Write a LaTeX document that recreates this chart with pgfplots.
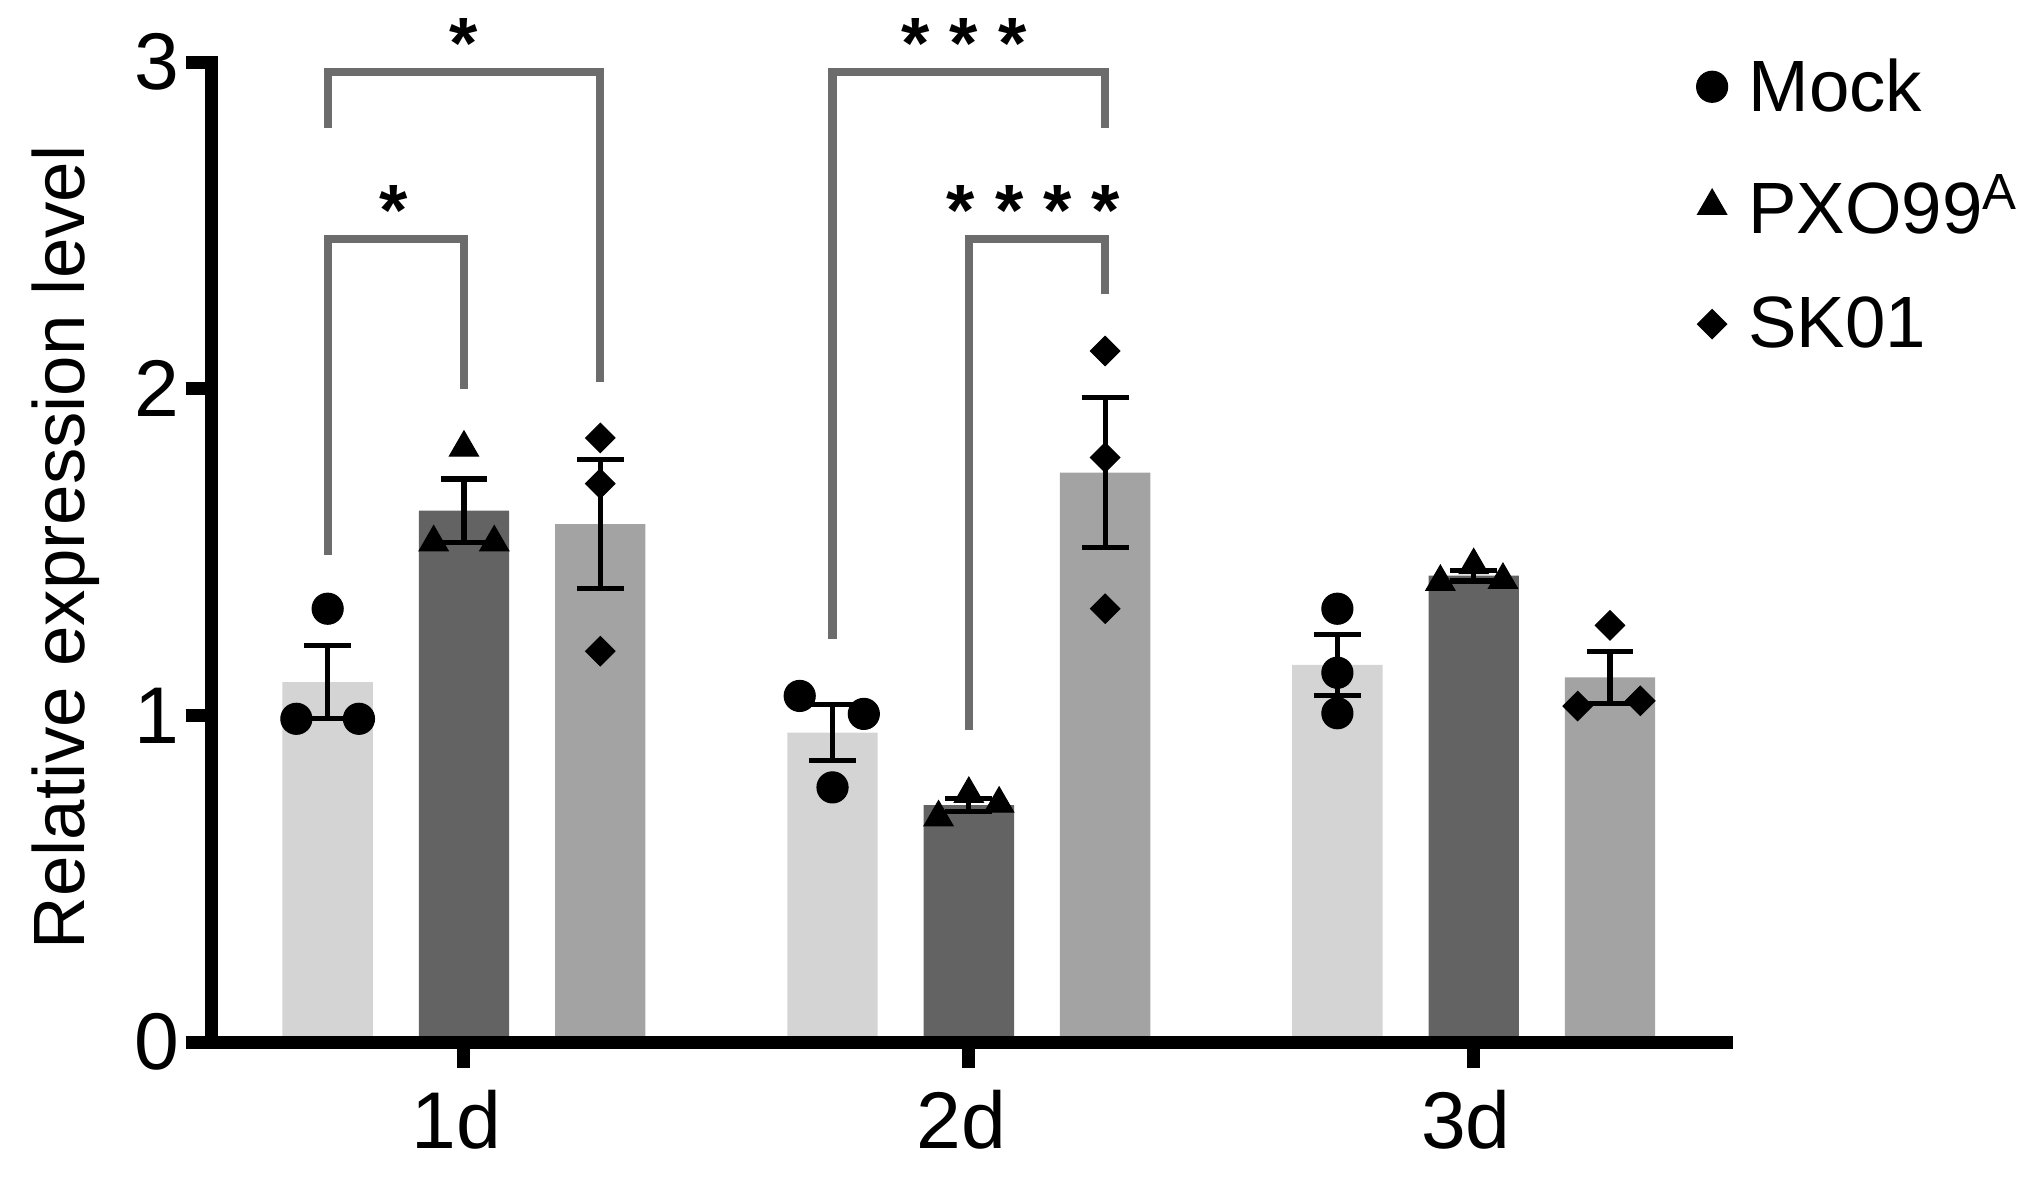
\documentclass[border=0pt]{standalone}
\usepackage{pgfplots}
\pgfplotsset{compat=1.18}
\usepackage{fontspec}
\setmainfont{Liberation Sans}
\definecolor{mockC}{HTML}{D4D4D4}
\definecolor{pxoC}{HTML}{636363}
\definecolor{skC}{HTML}{A3A3A3}
\definecolor{brk}{HTML}{6C6C6C}
\newcommand\bigtxt{\fontsize{28}{33}\selectfont}
\newcommand\ticktxt{\fontsize{31}{36}\selectfont}

\begin{document}
\begin{tikzpicture}
\path[use as bounding box] (-81.5pt,-52.5pt) rectangle (702.5pt,401.5pt);
\begin{axis}[
  at={(0pt,0pt)}, anchor=south west,
  width=583.5pt, height=377.5pt, scale only axis,
  xmin=0.5, xmax=3.5, ymin=0, ymax=3,
  axis x line*=bottom, axis y line*=left,
  axis line style={line width=5pt, line cap=rect, -},
  axis on top,
  xtick={1,2,3}, xticklabels={1d,2d,3d},
  ytick={0,1,2,3}, yticklabels={0,1,2,3},
  tick align=outside, major tick length=10pt,
  tick style={line width=5pt, black},
  ticklabel style={font=\ticktxt},
  xticklabel style={yshift=-5pt, xshift=-3pt},
  yticklabel style={xshift=1pt},
  /pgf/number format/assume math mode=true,
  ylabel={Relative expression level},
  every axis y label/.style={at={(rel axis cs:0,0.505)}, xshift=-56pt,
    rotate=90, anchor=center, font=\bigtxt},
  clip=false,
  legend style={at={(rel axis cs:0.975,1.015)}, anchor=north west,
    draw=none, fill=none, font=\bigtxt, row sep=19pt,
    nodes={inner xsep=8pt}},
  legend cell align=left,
]
% bars
\addplot[ybar, bar width=0.179, bar shift=0pt, fill=mockC, draw=none, forget plot]
  coordinates {(0.73,1.102) (1.73,0.948) (2.73,1.155)};
\addplot[ybar, bar width=0.179, bar shift=0pt, fill=pxoC, draw=none, forget plot]
  coordinates {(1.0,1.627) (2.0,0.726) (3.0,1.428)};
\addplot[ybar, bar width=0.179, bar shift=0pt, fill=skC, draw=none, forget plot]
  coordinates {(1.27,1.586) (2.27,1.744) (3.27,1.117)};

% replicates
\addplot[only marks, mark=*, mark size=6pt, black]
  coordinates {(0.668,0.99) (0.73,1.327) (0.792,0.99)
               (1.665,1.06) (1.73,0.78) (1.792,1.005)
               (2.73,1.327) (2.73,1.131) (2.73,1.007)};
\addlegendentry{Mock}
\addplot[only marks, mark=triangle*, mark size=6.5pt, black]
  coordinates {(0.94,1.53) (1.0,1.82) (1.06,1.53)
               (1.94,0.688) (2.0,0.76) (2.06,0.73)
               (2.934,1.409) (3.0,1.46) (3.058,1.415)};
\addlegendentry{PXO99\textsuperscript{A}}
\addplot[only marks, mark=square*, mark options={rotate=45}, mark size=4pt, black]
  coordinates {(1.27,1.85) (1.27,1.71) (1.27,1.197)
               (2.27,2.116) (2.27,1.79) (2.27,1.327)
               (3.27,1.276) (3.206,1.029) (3.33,1.045)};
\addlegendentry{SK01}

% mean +- SEM
\addplot[draw=none, mark=none, forget plot,
  error bars/.cd, y dir=both, y explicit,
  error bar style={draw=black, line width=2pt},
  error mark options={draw=black, line width=2pt, mark size=9pt, rotate=90}]
  coordinates {
  (0.73,1.102) +- (0,0.112)
  (1.73,0.948) +- (0,0.086)
  (2.73,1.155) +- (0,0.093)
  (1.0,1.627) +- (0,0.097)
  (2.0,0.726) +- (0,0.021)
  (3.0,1.428) +- (0,0.016)
  (1.27,1.586) +- (0,0.198)
  (2.27,1.744) +- (0,0.229)
  (3.27,1.117) +- (0,0.080)
  };

% significance brackets
\addplot[brk, line width=3.2pt, mark=none, forget plot]
  coordinates {(0.73,2.80) (0.73,2.97) (1.27,2.97) (1.27,2.02)};
\addplot[brk, line width=3.2pt, mark=none, forget plot]
  coordinates {(0.73,1.49) (0.73,2.46) (1.0,2.46) (1.0,2.00)};
\addplot[brk, line width=3.2pt, mark=none, forget plot]
  coordinates {(1.73,1.235) (1.73,2.97) (2.27,2.97) (2.27,2.80)};
\addplot[brk, line width=3.2pt, mark=none, forget plot]
  coordinates {(2.0,0.955) (2.0,2.46) (2.27,2.46) (2.27,2.29)};

\node[font=\bigtxt\bfseries, anchor=base] at (axis cs:1.0,2.98) {*};
\node[font=\bigtxt\bfseries, anchor=base] at (axis cs:0.86,2.47) {*};
\node[font=\bigtxt\bfseries, anchor=base] at (axis cs:1.99,2.98) {* * *};
\node[font=\bigtxt\bfseries, anchor=base] at (axis cs:2.128,2.47) {* * * *};
\end{axis}
\end{tikzpicture}
\end{document}
